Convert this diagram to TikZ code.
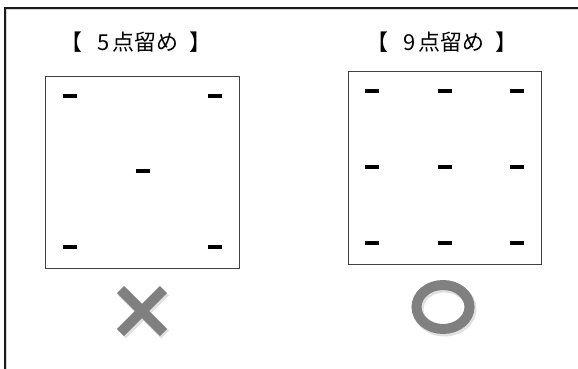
\documentclass[tikz,border=0pt]{standalone}
\usepackage{fontspec}
\usepackage{tikz}
\usetikzlibrary{positioning,calc}
\newfontfamily\jpfont{Noto Sans CJK JP}
\definecolor{frameline}{HTML}{1A1A1A}
\definecolor{boxline}{HTML}{404040}
\definecolor{markgray}{HTML}{808080}
\definecolor{shadegray}{HTML}{D4D4D4}
\tikzset{
  paperbox/.style={draw=boxline, line width=0.9pt, fill=white, inner sep=0pt},
  titletext/.style={font=\jpfont\fontsize{22}{26}\selectfont, inner sep=0pt},
  staple/.style={line width=3.6pt, draw=black},
  markline/.style={line width=10pt, draw=markgray},
  markshade/.style={line width=11pt, draw=shadegray, opacity=0.7}
}

\begin{document}
\begin{tikzpicture}[x=1pt,y=-1pt]
    \useasboundingbox (0,0) rectangle (578,369);
    % outer frame
    \draw[shadegray, line width=1pt] (6.5,369) -- (6.5,9.5) -- (578,9.5);
    \draw[frameline, line width=1.6pt] (5,369) -- (5,8) -- (578,8);

    % papers
    \node[paperbox, minimum width=194pt, minimum height=192pt] (fivebox) at (142,172) {};
    \node[paperbox, minimum width=193pt, minimum height=193pt] (ninebox) at (444.5,167.5) {};
    \node[titletext] (fivetitle) at (136,42) {【\hspace{0.7em}5\hspace{0.15em}点留め\hspace{0.5em}】};
    \node[titletext] (ninetitle) at (442,42) {【\hspace{0.7em}9\hspace{0.15em}点留め\hspace{0.5em}】};

    % staples
    \foreach \x/\y in {69.5/96, 215/96, 142.5/171, 69.5/247, 215/247}
      \draw[staple] (\x-7,\y) -- (\x+7,\y);
    \foreach \x in {372,444.5,517}
      \foreach \y in {91,167,243}
        \draw[staple] (\x-7,\y) -- (\x+7,\y);

    % verdict marks
    \draw[markshade] (122,291.5) -- (165,334.5) (165,291.5) -- (122,334.5);
    \draw[markline] (120.5,289.5) -- (163.5,332.5) (163.5,289.5) -- (120.5,332.5);
    \draw[markshade] (444.5,309) ellipse (26.5 and 22);
    \draw[markline] (443,307) ellipse (26.5 and 22);
  \end{tikzpicture}
\end{document}
